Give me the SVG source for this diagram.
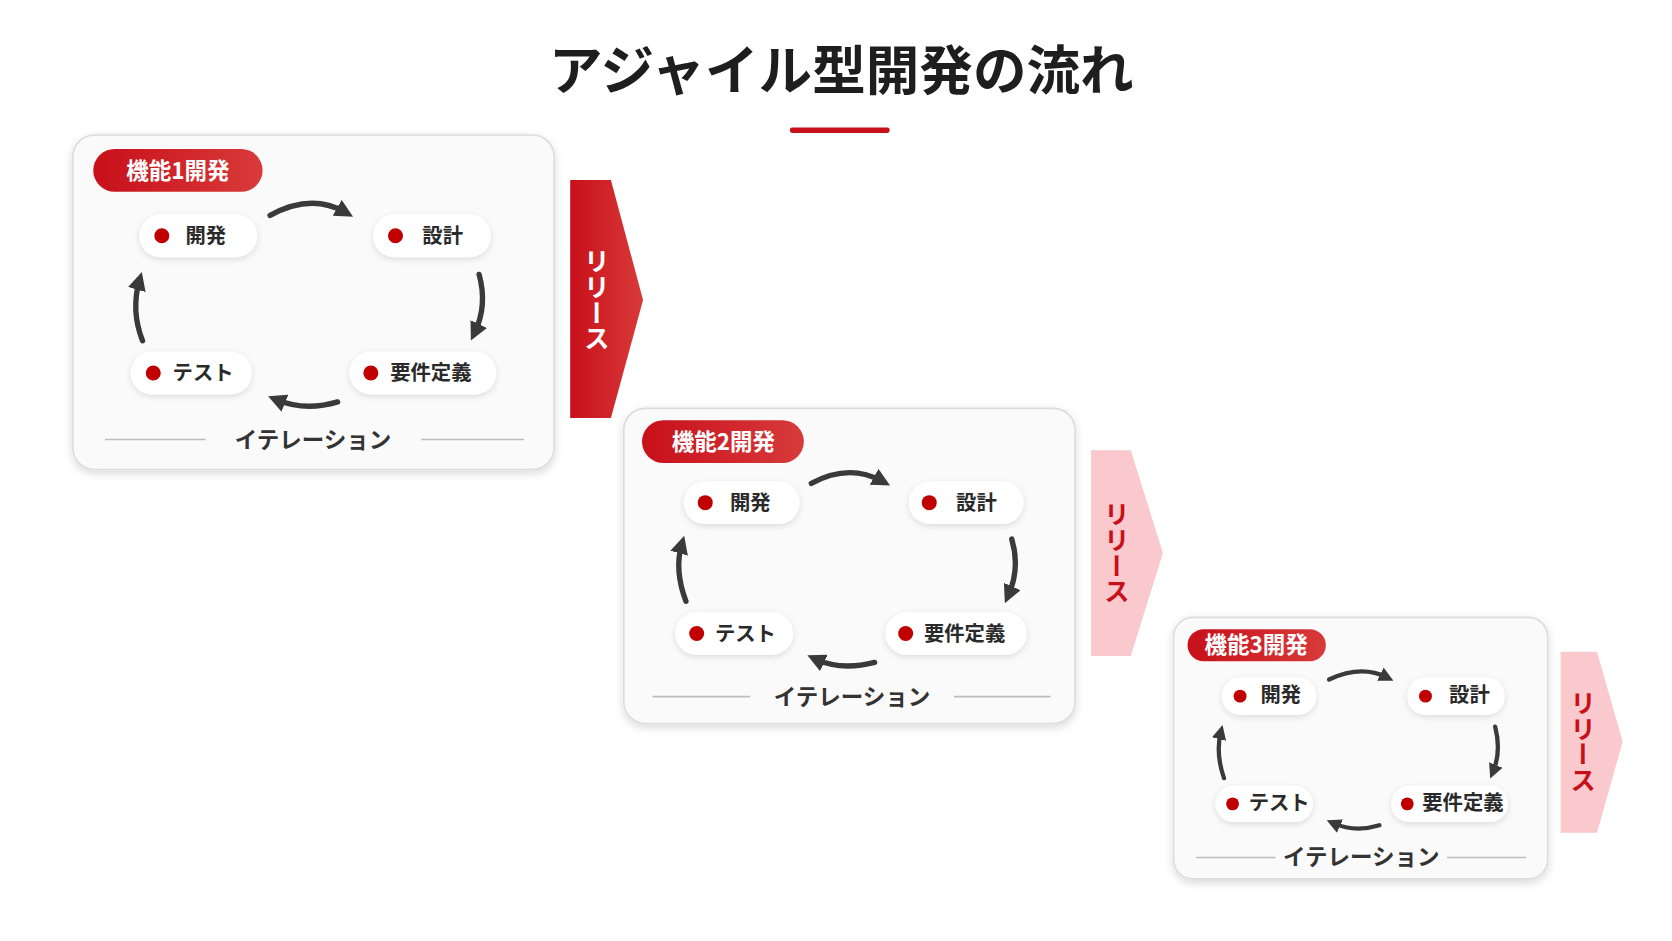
<svg xmlns="http://www.w3.org/2000/svg" width="1672" height="941" viewBox="0 0 1672 941">
<defs>
<filter id="sh" x="-10%" y="-10%" width="120%" height="125%"><feDropShadow dx="0" dy="3" stdDeviation="4" flood-color="#000" flood-opacity="0.15"/></filter>
<filter id="sh2" x="-10%" y="-20%" width="120%" height="150%"><feDropShadow dx="0" dy="2" stdDeviation="3" flood-color="#000" flood-opacity="0.12"/></filter>
<linearGradient id="red" x1="0" y1="0" x2="1" y2="0"><stop offset="0" stop-color="#c8101a"/><stop offset="1" stop-color="#d83a3a"/></linearGradient>
<marker id="ah" viewBox="0 0 10 10" refX="5" refY="5" markerWidth="3.4" markerHeight="3.4" orient="auto"><path d="M0,0 L10,5 L0,10 z" fill="#3a3a3a"/></marker>
</defs>
<style>
.card{fill:#fafafa;stroke:#dcdcdc;stroke-width:1.5;filter:url(#sh)}
.pill{fill:#fff;filter:url(#sh2)}
.lab{fill:url(#red)}
.t{font-family:"Noto Sans CJK JP","Noto Sans",sans-serif;font-weight:700}
.lt{fill:#fff;font-size:21px}
.nt{fill:#2a2a2a;font-size:19px}
.it{fill:#333;font-size:21px;text-anchor:middle}
.dot{fill:#c00000}
.ln{stroke:#bdbdbd;stroke-width:1.5}
.ar{fill:none;stroke:#3a3a3a;stroke-width:5;stroke-linecap:round;marker-end:url(#ah)}
.rt{font-size:24px;writing-mode:vertical-rl;text-anchor:middle}
</style>
<rect width="1672" height="941" fill="#fff"/>
<g transform="scale(1.0718)">
<g id="title">
<text x="785" y="84" class="t" font-size="50" text-anchor="middle" fill="#1e1e1e">アジャイル型開発の流れ</text>
<rect x="737" y="119" width="93" height="5" rx="2" fill="#c8101a"/>
</g>
<g id="card1">
<rect class="card" x="68" y="126" width="449" height="312" rx="20"/>
<rect class="lab" x="87" y="139" width="158" height="40" rx="20"/>
<text class="t lt" x="166" y="167" text-anchor="middle">機能1開発</text>
<rect class="pill" x="130" y="200" width="110" height="40" rx="20"/><circle class="dot" cx="151" cy="220" r="7"/><text class="t nt" x="173" y="227">開発</text>
<rect class="pill" x="348" y="200" width="110" height="40" rx="20"/><circle class="dot" cx="369" cy="220" r="7"/><text class="t nt" x="394" y="227">設計</text>
<rect class="pill" x="122" y="328" width="113" height="40" rx="20"/><circle class="dot" cx="143" cy="348" r="7"/><text class="t nt" x="161" y="355">テスト</text>
<rect class="pill" x="326" y="328" width="137" height="40" rx="20"/><circle class="dot" cx="346" cy="348" r="7"/><text class="t nt" x="364" y="355">要件定義</text>
<line class="ln" x1="98" y1="410" x2="192" y2="410"/><line class="ln" x1="393" y1="410" x2="489" y2="410"/>
<text class="t it" x="292" y="418">イテレーション</text>
</g>
<g id="card2">
<rect class="card" x="582" y="381" width="421" height="294" rx="20"/>
<rect class="lab" x="599" y="392" width="151" height="40" rx="20"/>
<text class="t lt" x="675" y="420" text-anchor="middle">機能2開発</text>
<rect class="pill" x="638" y="449" width="108" height="40" rx="20"/><circle class="dot" cx="658" cy="469" r="7"/><text class="t nt" x="681" y="476">開発</text>
<rect class="pill" x="848" y="449" width="107" height="40" rx="20"/><circle class="dot" cx="867" cy="469" r="7"/><text class="t nt" x="892" y="476">設計</text>
<rect class="pill" x="630" y="571" width="110" height="40" rx="20"/><circle class="dot" cx="650" cy="591" r="7"/><text class="t nt" x="667" y="598">テスト</text>
<rect class="pill" x="826" y="571" width="132" height="40" rx="20"/><circle class="dot" cx="845" cy="591" r="7"/><text class="t nt" x="862" y="598">要件定義</text>
<line class="ln" x1="609" y1="650" x2="700" y2="650"/><line class="ln" x1="890" y1="650" x2="980" y2="650"/>
<text class="t it" x="795" y="658">イテレーション</text>
</g>
<g id="card3">
<rect class="card" x="1095" y="576" width="349" height="244" rx="18"/>
<rect class="lab" x="1108" y="587" width="129" height="30" rx="15"/>
<text class="t lt" x="1172" y="609" text-anchor="middle" font-size="18">機能3開発</text>
<rect class="pill" x="1140" y="632" width="88" height="35" rx="17"/><circle class="dot" cx="1157" cy="649.5" r="6"/><text class="t nt" x="1176" y="655" font-size="16">開発</text>
<rect class="pill" x="1313" y="632" width="91" height="35" rx="17"/><circle class="dot" cx="1330" cy="649.5" r="6"/><text class="t nt" x="1352" y="655" font-size="16">設計</text>
<rect class="pill" x="1134" y="733" width="91" height="34" rx="17"/><circle class="dot" cx="1150" cy="750" r="6"/><text class="t nt" x="1165" y="756" font-size="16">テスト</text>
<rect class="pill" x="1298" y="733" width="109" height="34" rx="17"/><circle class="dot" cx="1313" cy="750" r="6"/><text class="t nt" x="1327" y="756" font-size="16">要件定義</text>
<line class="ln" x1="1116" y1="800" x2="1190" y2="800"/><line class="ln" x1="1350" y1="800" x2="1424" y2="800"/>
<text class="t it" x="1270" y="807" font-size="18">イテレーション</text>
</g>
<g id="connectors">
<path class="ar" d="M252,201 Q290,180 322,198"/>
<path class="ar" d="M447,256 Q455,285 443,310"/>
<path class="ar" d="M315,375 Q285,384 258,373"/>
<path class="ar" d="M133,318 Q122,290 130,262"/>
<path class="ar" d="M757,451 Q792,432 823,449"/>
<path class="ar" d="M944,503 Q952,530 941,555"/>
<path class="ar" d="M816,618 Q785,626 761,615"/>
<path class="ar" d="M640,561 Q629,532 636,508"/>
<path class="ar" d="M1240,634 Q1270,620 1294,632" style="stroke-width:4"/>
<path class="ar" d="M1395,678 Q1401,701 1393,720" style="stroke-width:4"/>
<path class="ar" d="M1287,770 Q1264,777 1244,768" style="stroke-width:4"/>
<path class="ar" d="M1142,726 Q1134,703 1139,683" style="stroke-width:4"/>
</g>
<g id="release1">
<polygon points="532,168 570,168 600,280 570,390 532,390" fill="url(#red)"/>
<text class="t rt" x="557" y="280" fill="#fff">リリース</text>
</g>
<g id="release2">
<polygon points="1018,420 1055,420 1085,516 1055,612 1018,612" fill="#f9c9cd"/>
<text class="t rt" x="1042" y="516" fill="#c8101a">リリース</text>
</g>
<g id="release3">
<polygon points="1456,608 1490,608 1514,692 1490,777 1456,777" fill="#f9c9cd"/>
<text class="t rt" x="1477" y="692" fill="#c8101a">リリース</text>
</g>
</g>
</svg>
